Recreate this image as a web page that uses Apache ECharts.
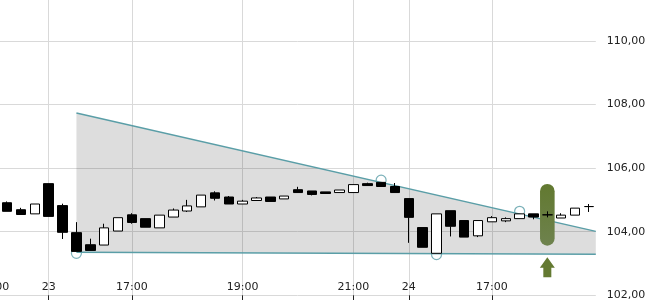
<!DOCTYPE html>
<html><head><meta charset="utf-8">
<script src="https://cdn.jsdelivr.net/npm/echarts@6/dist/echarts.min.js"></script>
<style>html,body{margin:0;padding:0;background:#fff}#c{width:650px;height:300px}</style>
</head><body><div id="c"></div>
<script>
// 15-minute periods
const categories = [
  '22 21:00','22 21:15','22 21:30','22 21:45',
  '23 15:30','23 15:45','23 16:00','23 16:15','23 16:30','23 16:45',
  '23 17:00','23 17:15','23 17:30','23 17:45','23 18:00','23 18:15','23 18:30','23 18:45',
  '23 19:00','23 19:15','23 19:30','23 19:45','23 20:00','23 20:15','23 20:30','23 20:45',
  '23 21:00','23 21:15','23 21:30','23 21:45',
  '24 15:30','24 15:45','24 16:00','24 16:15','24 16:30','24 16:45',
  '24 17:00','24 17:15','24 17:30','24 17:45','24 18:00','24 18:15','24 18:30','24 18:45'
];
// [open, close, low, high]
const candles = [
  '-',
  [104.91,104.64,104.64,104.95],
  [104.69,104.54,104.54,104.75],
  [104.56,104.87,104.56,104.87],
  [105.51,104.48,104.48,105.51],
  [104.82,103.98,103.77,104.88],
  [103.97,103.38,103.38,104.30],
  [103.59,103.41,103.41,103.78],
  [103.58,104.12,103.58,104.25],
  [104.02,104.44,104.02,104.44],
  [104.53,104.29,104.25,104.58],
  [104.41,104.14,104.14,104.41],
  [104.12,104.52,104.12,104.52],
  [104.46,104.68,104.46,104.73],
  [104.65,104.81,104.62,105.00],
  [104.78,105.15,104.78,105.15],
  [105.22,105.05,104.98,105.27],
  [105.09,104.87,104.87,105.12],
  [104.87,104.96,104.87,105.00],
  [104.98,105.06,104.98,105.09],
  [105.09,104.95,104.95,105.09],
  [105.03,105.12,105.03,105.12],
  [105.32,105.23,105.23,105.41],
  [105.28,105.17,105.14,105.28],
  [105.25,105.20,105.20,105.25],
  [105.23,105.31,105.23,105.31],
  [105.23,105.48,105.23,105.48],
  [105.51,105.45,105.45,105.54],
  [105.55,105.42,105.42,105.55],
  [105.42,105.23,105.23,105.53],
  [105.04,104.45,103.65,105.04],
  [104.13,103.51,103.51,104.13],
  [103.32,104.56,103.32,104.56],
  [104.66,104.17,103.85,104.66],
  [104.35,103.83,103.83,104.35],
  [103.87,104.35,103.83,104.35],
  [104.31,104.44,104.31,104.49],
  [104.34,104.41,104.30,104.45],
  [104.41,104.56,104.41,104.56],
  [104.56,104.46,104.39,104.56],
  [104.53,104.53,104.45,104.64],
  [104.43,104.52,104.43,104.58],
  [104.52,104.74,104.52,104.74],
  [104.79,104.79,104.62,104.87]
];
const tickLabels = {
  '22 21:00':'21:00','23 15:30':'23','23 17:00':'17:00','23 19:00':'19:00',
  '23 21:00':'21:00','24 15:30':'24','24 17:00':'17:00'
};
// trend channel [periodIndex, price]
const upperTrend = [[6, 107.73], [43.5, 104.01]];
const lowerTrend = [[6, 103.35], [43.5, 103.29]];
const touchPoints = [[6, 103.32], [28, 105.62], [32, 103.28], [38, 104.64]];
const highlight = [[40, 103.56, 105.50]];
const signalArrow = [[40, 102.88]];
const lastPrice = 104.79;
const yMin = 102, yMax = 112, yStep = 2;

const fmt = v => Number(v).toFixed(2).replace('.', ',');
const isLabeled = (i, v) => Object.prototype.hasOwnProperty.call(tickLabels, v);
const font = 'DejaVu Sans';
const teal = '#5a9ea7';

const chart = echarts.init(document.getElementById('c'), null, {renderer: 'canvas'});
chart.setOption({
  animation: false,
  backgroundColor: '#fff',
  grid: {left: -13.6, right: 54.2, top: -22.8, bottom: 4.7, containLabel: false, outerBoundsMode: 'none'},
  xAxis: [{
    type: 'category', data: categories, boundaryGap: true,
    axisLine: {show: false},
    axisTick: {show: true, alignWithLabel: true, interval: isLabeled, length: 5, inside: false, lineStyle: {color: '#222'}},
    axisLabel: {show: true, inside: true, interval: isLabeled, margin: 3, formatter: v => tickLabels[v] || '',
      color: '#222', fontSize: 11, fontFamily: font},
    splitLine: {show: true, interval: isLabeled, alignWithLabel: true, lineStyle: {color: '#d9d9d9', width: 1}}
  }, {
    type: 'value', min: -0.5, max: 43.5, show: false
  }],
  yAxis: {
    type: 'value', position: 'right', min: yMin, max: yMax, interval: yStep,
    axisLine: {show: false},
    axisTick: {show: true, length: 4, lineStyle: {color: '#222'}},
    axisLabel: {margin: 11, color: '#222', fontSize: 11, fontFamily: font, formatter: fmt},
    splitLine: {show: true, lineStyle: {color: '#d9d9d9', width: 1}}
  },
  series: [
    {
      type: 'custom', xAxisIndex: 1, z: 1, silent: true, data: [upperTrend[0]], encode: {x: 0, y: 1},
      renderItem: (params, api) => {
        const pts = [
          api.coord(upperTrend[0]), api.coord(upperTrend[1]),
          api.coord(lowerTrend[1]), api.coord(lowerTrend[0])
        ];
        return {type: 'polygon', shape: {points: pts}, style: {fill: 'rgba(0,0,0,0.133)'}};
      }
    },
    {
      type: 'line', xAxisIndex: 1, data: lowerTrend, symbol: 'none', z: 2,
      lineStyle: {color: teal, width: 1.5}, silent: true
    },
    {
      type: 'line', xAxisIndex: 1, data: upperTrend, symbol: 'none', z: 2,
      lineStyle: {color: teal, width: 1.5}, silent: true
    },
    {
      type: 'custom', z: 3, data: highlight, encode: {x: 0, y: [1, 2]}, silent: true,
      renderItem: (params, api) => {
        const x = api.value(0);
        const top = api.coord([x, api.value(2)]);
        const bot = api.coord([x, api.value(1)]);
        const w = 14.6;
        return {
          type: 'rect',
          shape: {x: top[0] - w / 2, y: top[1], width: w, height: bot[1] - top[1], r: w / 2},
          style: {fill: new echarts.graphic.LinearGradient(0, 0, 0, 1, [
            {offset: 0, color: 'rgb(98,121,48)'}, {offset: 1, color: 'rgb(110,130,78)'}])}
        };
      }
    },
    {
      type: 'scatter', data: touchPoints, symbol: 'circle', symbolSize: 10, z: 4, silent: true,
      itemStyle: {color: 'rgba(0,0,0,0)', borderColor: teal, borderWidth: 1.2}
    },
    {
      type: 'candlestick', data: candles, barWidth: 10, z: 5, silent: true,
      itemStyle: {color: '#ffffff', color0: '#000000', borderColor: '#000000', borderColor0: '#000000',
        borderColorDoji: '#000000', borderWidth: 1},
      markLine: {
        silent: true, symbol: 'none', animation: false,
        lineStyle: {opacity: 0, width: 0},
        label: {show: true, position: 'end', distance: 11, formatter: () => fmt(lastPrice),
          color: '#222', fontSize: 11, fontFamily: font},
        data: [{yAxis: lastPrice}]
      }
    },
    {
      type: 'scatter', data: signalArrow, z: 5, silent: true,
      symbol: 'path://M7.5,0 L15,10.5 L11.5,10.5 L11.5,20 L3.5,20 L3.5,10.5 L0,10.5 Z',
      symbolSize: [15, 20], itemStyle: {color: '#647a32', opacity: 1}
    }
  ]
});
</script></body></html>
